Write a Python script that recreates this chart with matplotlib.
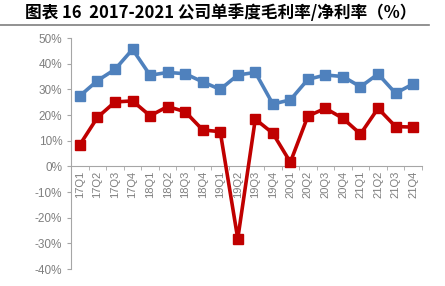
import matplotlib.pyplot as plt
import numpy as np
from matplotlib.ticker import FixedLocator, PercentFormatter

plt.rcParams['font.family'] = ['Liberation Sans', 'Noto Sans CJK SC', 'DejaVu Sans']
plt.rcParams['axes.unicode_minus'] = False

quarters = ['17Q1', '17Q2', '17Q3', '17Q4', '18Q1', '18Q2', '18Q3', '18Q4',
            '19Q1', '19Q2', '19Q3', '19Q4', '20Q1', '20Q2', '20Q3', '20Q4',
            '21Q1', '21Q2', '21Q3', '21Q4']
gross_margin = [27.5, 33.4, 37.8, 45.6, 35.5, 36.6, 36.1, 32.9, 30.0, 35.6,
                36.6, 24.3, 25.9, 33.9, 35.6, 35.0, 31.0, 36.0, 28.5, 32.1]
net_margin = [8.5, 19.1, 25.1, 25.5, 19.7, 23.3, 21.3, 14.2, 13.5, -28.2,
              18.4, 12.9, 1.6, 19.6, 22.6, 18.7, 12.6, 22.6, 15.5, 15.3]
yticks = np.arange(-40, 51, 10)

fig = plt.figure(figsize=(4.45, 2.86), dpi=100)
ax = fig.add_axes([0.16, 0.0594, 0.788, 0.8076])

x = np.arange(len(quarters))
ax.plot(x, gross_margin, color='#4F81BD', lw=2.6, marker='s', ms=6.5, zorder=3)
ax.plot(x, net_margin, color='#C00000', lw=2.6, marker='s', ms=6.5, zorder=3)

ax.set_xlim(-0.5, len(quarters) - 0.5)
ax.set_ylim(-40, 50)
ax.set_yticks(yticks)
ax.yaxis.set_major_formatter(PercentFormatter(decimals=0))

ax.set_xticks(x)
ax.set_xticklabels(quarters)
ax.xaxis.set_minor_locator(FixedLocator(np.arange(-0.5, len(quarters), 1)))
ax.tick_params(axis='x', which='major', length=0, pad=3, labelsize=8,
               labelcolor='#7f7f7f', labelrotation=90)
ax.tick_params(axis='x', which='minor', length=3, direction='out', color='#a6a6a6')
ax.tick_params(axis='y', length=3, color='#a6a6a6', labelsize=8.5, labelcolor='#7f7f7f')

for s in ['top', 'right']:
    ax.spines[s].set_visible(False)
ax.spines['bottom'].set_position(('data', 0))
ax.spines['bottom'].set_color('#a6a6a6')
ax.spines['left'].set_color('#a6a6a6')

fig.text(0.056, 0.955, '图表 16  2017-2021 公司单季度毛利率/净利率（%）',
         fontsize=12, fontweight='bold', family=['Noto Sans CJK SC', 'DejaVu Sans'],
         va='center', ha='left')
fig.add_artist(plt.Line2D([0.0, 0.965], [0.913, 0.913], color='#7f7f7f', lw=1.2))

fig.savefig('out.png', dpi=100)
